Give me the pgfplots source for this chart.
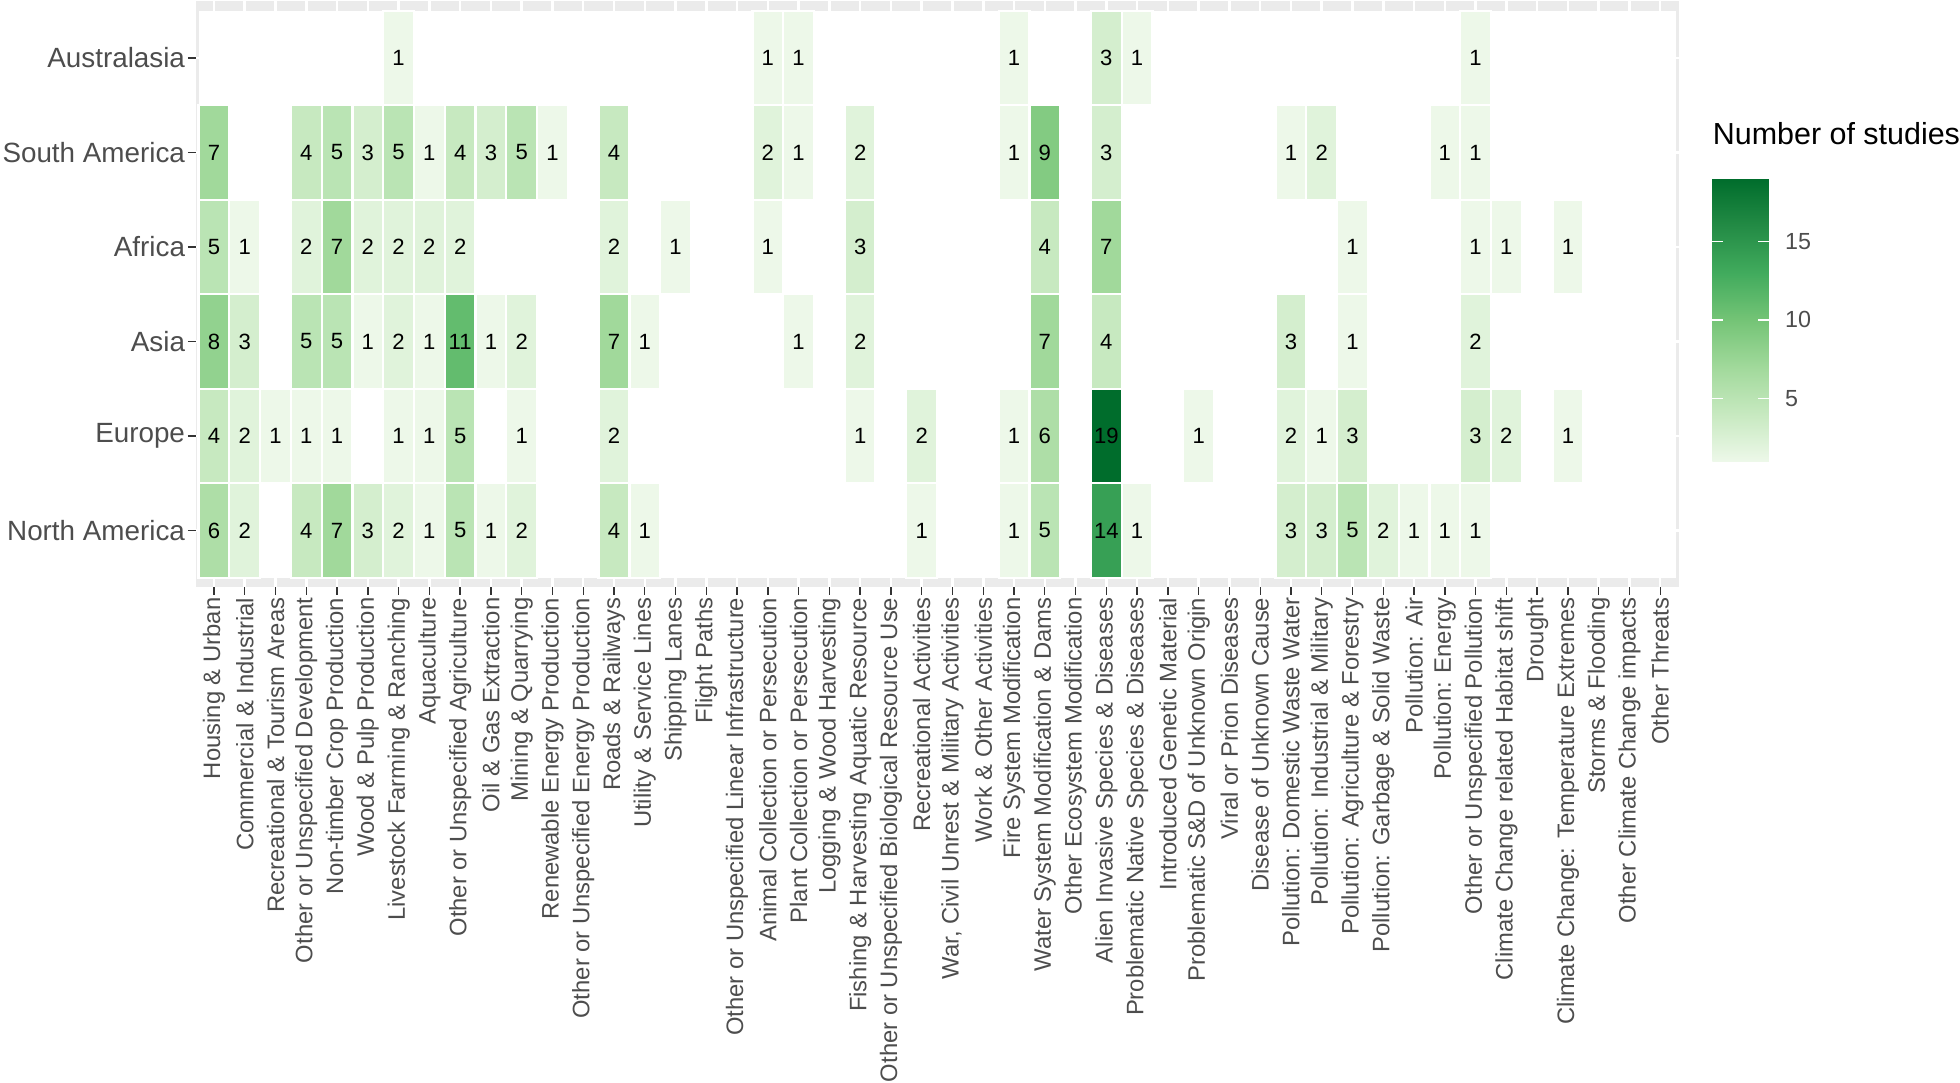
\documentclass[border=0pt]{standalone}
\usepackage{fontspec}
\setmainfont{Liberation Sans}
\usepackage{pgfplots}
\usepackage{pgfplotstable}
\pgfplotsset{compat=1.18}

\definecolor{panelgrey}{HTML}{EBEBEB}
\definecolor{labgrey}{HTML}{4D4D4D}
\definecolor{tickgrey}{HTML}{333333}

% one tile = one category step in x and y (x unit 12.276pt, y unit 37.70pt)
\pgfdeclareplotmark{tile}{%
  \pgfpathrectangle{\pgfpoint{-6.138pt}{-18.85pt}}{\pgfpoint{12.276pt}{37.70pt}}%
  \pgfusepathqfillstroke}

% x = threat (1..48), y = region (1 North America ... 6 Australasia), n = studies
\pgfplotstableread{
x y n
7 6 1
19 6 1
20 6 1
27 6 1
30 6 3
31 6 1
42 6 1
1 5 7
4 5 4
5 5 5
6 5 3
7 5 5
8 5 1
9 5 4
10 5 3
11 5 5
12 5 1
14 5 4
19 5 2
20 5 1
22 5 2
27 5 1
28 5 9
30 5 3
36 5 1
37 5 2
41 5 1
42 5 1
1 4 5
2 4 1
4 4 2
5 4 7
6 4 2
7 4 2
8 4 2
9 4 2
14 4 2
16 4 1
19 4 1
22 4 3
28 4 4
30 4 7
38 4 1
42 4 1
43 4 1
45 4 1
1 3 8
2 3 3
4 3 5
5 3 5
6 3 1
7 3 2
8 3 1
9 3 11
10 3 1
11 3 2
14 3 7
15 3 1
20 3 1
22 3 2
28 3 7
30 3 4
36 3 3
38 3 1
42 3 2
1 2 4
2 2 2
3 2 1
4 2 1
5 2 1
7 2 1
8 2 1
9 2 5
11 2 1
14 2 2
22 2 1
24 2 2
27 2 1
28 2 6
30 2 19
33 2 1
36 2 2
37 2 1
38 2 3
42 2 3
43 2 2
45 2 1
1 1 6
2 1 2
4 1 4
5 1 7
6 1 3
7 1 2
8 1 1
9 1 5
10 1 1
11 1 2
14 1 4
15 1 1
24 1 1
27 1 1
28 1 5
30 1 14
31 1 1
36 1 3
37 1 3
38 1 5
39 1 2
40 1 1
41 1 1
42 1 1
}\studies

\begin{document}
\begin{tikzpicture}
\begin{axis}[
    scale only axis,
    width=591.7pt, height=233.75pt,
    xmin=0.4, xmax=48.6, ymin=0.4, ymax=6.6,
    axis background/.style={fill=panelgrey},
    axis line style={draw=none},
    grid=major,
    major grid style={white, line width=1pt},
    xtick={1,...,48}, ytick={1,...,6},
    xticklabels={Housing \& Urban, Commercial \& Industrial, Recreational \& Tourism Areas,
      Other or Unspecified Development, Non-timber Crop Production, Wood \& Pulp Production,
      Livestock Farming \& Ranching, Aquaculture, Other or Unspecified Agriculture,
      Oil \& Gas Extraction, Mining \& Quarrying, Renewable Energy Production,
      Other or Unspecified Energy Production, Roads \& Railways, Utility \& Service Lines,
      Shipping Lanes, Flight Paths, Other or Unspecified Linear Infrastructure,
      Animal Collection or Persecution, Plant Collection or Persecution,
      Logging \& Wood Harvesting, Fishing \& Harvesting Aquatic Resource,
      Other or Unspecified Biological Resource Use, Recreational Activities,
      {War, Civil Unrest \& Military Activities}, Work \& Other Activities,
      Fire System Modification, Water System Modification \& Dams,
      Other Ecosystem Modification, Alien Invasive Species \& Diseases,
      Problematic Native Species \& Diseases, Introduced Genetic Material,
      Problematic S\&D of Unknown Origin, Viral or Prion Diseases,
      Disease of Unknown Cause, Pollution: Domestic Waste Water,
      Pollution: Industrial \& Military, Pollution: Agriculture \& Forestry,
      Pollution: Garbage \& Solid Waste, Pollution: Air, Pollution: Energy,
      Other or Unspecified Pollution, Climate Change related Habitat shift, Drought,
      Climate Change: Temperature Extremes, Storms \& Flooding,
      Other Climate Change impacts, Other Threats},
    yticklabels={North America, Europe, Asia, Africa, South America, Australasia},
    tick align=outside,
    xtick pos=left, ytick pos=left,
    major tick length=3pt,
    tick style={tickgrey, line width=0.55pt},
    xticklabel style={rotate=90, anchor=east, font=\fontsize{9.5}{11}\selectfont,
      text=labgrey, inner xsep=0pt},
    xticklabel shift=1pt,
    yticklabel style={font=\fontsize{11.1}{13}\selectfont, text=labgrey, inner sep=1pt},
    colormap={greens}{rgb255(0cm)=(237,248,233); rgb255(1cm)=(199,233,192);
      rgb255(2cm)=(161,217,155); rgb255(3cm)=(116,196,118); rgb255(4cm)=(65,171,93);
      rgb255(5cm)=(35,139,69); rgb255(6cm)=(0,109,44)},
    point meta min=1, point meta max=19,
    colorbar,
    colorbar/width=22.5pt,
    colorbar style={
      at={(parent axis.north east)}, anchor=north west,
      xshift=4.9pt, yshift=-70.8pt,
      width=22.5pt, height=112.7pt,
      axis line style={draw=none},
      ytick={5,10,15},
      tick align=inside, ytick pos=both, yticklabel pos=right,
      major tick length=4.2pt,
      tick style={white, line width=0.6pt},
      /pgf/number format/assume math mode=true,
      yticklabel style={font=\fontsize{9.3}{11}\selectfont, text=labgrey, xshift=3pt},
      title={Number of studies},
      title style={at={(0,1)}, anchor=base west, yshift=7.5pt, inner sep=0pt,
        font=\fontsize{12.15}{14}\selectfont, text=black},
    },
]
% empty cells are white tiles
\addplot[fill=white, draw=none, forget plot]
  coordinates {(0.5,0.5) (48.5,0.5) (48.5,6.5) (0.5,6.5)} -- cycle;

% coloured tiles
\addplot[only marks, mark=tile, forget plot,
  point meta=explicit,
  scatter,
  scatter/@pre marker code/.code={%
    \pgfplotscolormapdefinemappedcolor{\pgfplotspointmetatransformed}%
    \pgfsetfillcolor{mapped color}\pgfsetstrokecolor{white}\pgfsetlinewidth{0.9pt}},
  scatter/@post marker code/.code={},
] table[x=x, y=y, meta=n] {\studies};

% counts
\addplot[only marks, mark=none, draw=none, forget plot,
  point meta=explicit,
  nodes near coords={\pgfmathprintnumber[assume math mode=true]{\pgfplotspointmeta}},
  nodes near coords style={anchor=center, inner sep=0pt, text=black,
    font=\fontsize{8.8}{10}\selectfont},
] table[x=x, y=y, meta=n] {\studies};
\end{axis}
\end{tikzpicture}
\end{document}
